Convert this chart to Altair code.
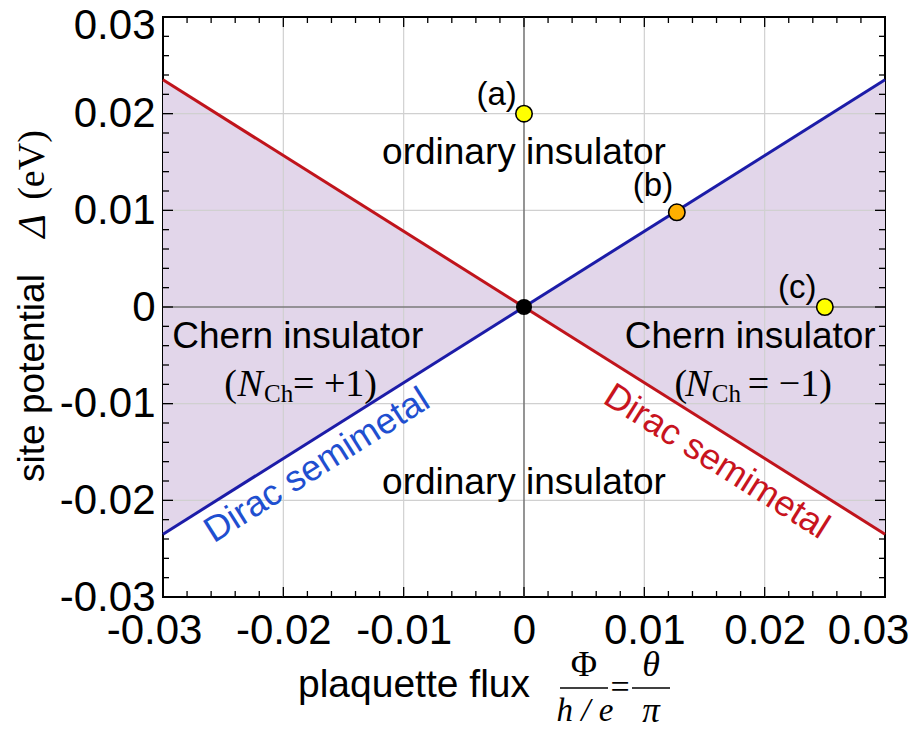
import altair as alt
import pandas as pd

W, H = 722, 580
SANS = "Liberation Sans"
SERIF = "Liberation Serif"

# phase boundary lines (Dirac semimetal)
x_line = [-0.03, 0.0, 0.03]
red_line = [0.0235, 0.0, -0.0235]
blue_line = [-0.0235, 0.0, 0.0235]

# marked points
point_x = [0.0, 0.0127, 0.025, 0.0]
point_y = [0.020, 0.0098, 0.0, 0.0]
point_fill = ["#ffff00", "#ffb000", "#ffff00", "#000000"]
point_size = [270, 270, 270, 210]

label_text = ["(a)", "(b)", "(c)"]
label_x = [-0.0006, 0.0124, 0.0243]
label_y = [0.0219, 0.0125, 0.0020]

# region annotations
region_text = ["ordinary insulator", "ordinary insulator", "Chern insulator", "Chern insulator"]
region_x = [0.0, 0.0, -0.0188, 0.0188]
region_y = [0.0159, -0.0182, -0.0031, -0.0031]

dirac_text = ["Dirac semimetal", "Dirac semimetal"]
dirac_x = [-0.0172, 0.0160]
dirac_y = [-0.0164, -0.0160]
dirac_color = ["#1f4fd0", "#c8141e"]
dirac_angle = [327.8, 32.2]

# Chern number labels (N_Ch = ±1), split into pieces
ch_y = -0.0081
paren_text = ["(", "= +1)", "(", "= \u22121)"]
paren_x = [-0.0249, -0.0192, 0.0125, 0.0186]
n_text = ["N", "N"]
n_x = [-0.0238, 0.0134]
sub_text = ["Ch", "Ch"]
sub_x = [-0.0216, 0.0156]

major = [-0.03, -0.02, -0.01, 0.0, 0.01, 0.02, 0.03]
grid_vals = [-0.02, -0.01, 0.01, 0.02]
minor = [round(k * 0.002, 3) for k in range(-15, 16) if k % 5 != 0]

xs = alt.Scale(domain=[-0.03, 0.03], nice=False, zero=False)
ys = alt.Scale(domain=[-0.03, 0.03], nice=False, zero=False)

lines_df = pd.DataFrame({"x": x_line, "red": red_line, "blue": blue_line})
pts_df = pd.DataFrame({"x": point_x, "y": point_y, "fill": point_fill, "size": point_size})
lab_df = pd.DataFrame({"t": label_text, "x": label_x, "y": label_y})
reg_df = pd.DataFrame({"t": region_text, "x": region_x, "y": region_y})
grid_df = pd.DataFrame({"v": grid_vals})
major_df = pd.DataFrame({"v": major})
minor_df = pd.DataFrame({"v": minor})

label_expr = ("datum.value == 0 ? '0' : (datum.value < 0 ? '-' + format(-datum.value, '.2f') "
              ": format(datum.value, '.2f'))")

x_axis = alt.Axis(values=major, labelExpr=label_expr, labelFont=SANS, labelFontSize=42,
                  labelColor="black", labelPadding=13, ticks=False, domain=False, grid=False,
                  labelFlush=False, labelOverlap=False, title=None,
                  labelOffset={"condition": [
                      {"test": "datum.value > 0.025", "value": -17},
                      {"test": "datum.value < -0.025", "value": -9}], "value": 0})
y_axis = alt.Axis(values=major, labelExpr=label_expr, labelFont=SANS, labelFontSize=42,
                  labelColor="black", labelPadding=8, ticks=False, domain=False, grid=False,
                  labelFlush=False, labelOverlap=False, title=None,
                  labelOffset={"condition": {"test": "datum.value > 0.025", "value": 8}, "value": 0})

area = alt.Chart(lines_df).mark_area(color="#e2d6ea", opacity=1).encode(
    x=alt.X("x:Q", scale=xs, axis=x_axis),
    y=alt.Y("red:Q", scale=ys, axis=y_axis),
    y2="blue:Q",
)

gx = alt.Chart(grid_df).mark_rule(color="#d0d0d0", strokeWidth=1.2).encode(x=alt.X("v:Q", scale=xs))
gy = alt.Chart(grid_df).mark_rule(color="#d0d0d0", strokeWidth=1.2).encode(y=alt.Y("v:Q", scale=ys))
zx = alt.Chart(pd.DataFrame({"v": [0.0]})).mark_rule(color="#7a7a7a", strokeWidth=1.6).encode(
    x=alt.X("v:Q", scale=xs))
zy = alt.Chart(pd.DataFrame({"v": [0.0]})).mark_rule(color="#7a7a7a", strokeWidth=1.6).encode(
    y=alt.Y("v:Q", scale=ys))

red = alt.Chart(lines_df).mark_line(color="#c0141c", strokeWidth=3).encode(
    x=alt.X("x:Q", scale=xs), y=alt.Y("red:Q", scale=ys))
blue = alt.Chart(lines_df).mark_line(color="#1c1ca8", strokeWidth=3).encode(
    x=alt.X("x:Q", scale=xs), y=alt.Y("blue:Q", scale=ys))


def ticks(df, length):
    out = []
    out.append(alt.Chart(df).mark_rule(color="black", strokeWidth=1.3).encode(
        x=alt.X("v:Q", scale=xs), y=alt.value(H), y2=alt.value(H - length)))
    out.append(alt.Chart(df).mark_rule(color="black", strokeWidth=1.3).encode(
        x=alt.X("v:Q", scale=xs), y=alt.value(0), y2=alt.value(length)))
    out.append(alt.Chart(df).mark_rule(color="black", strokeWidth=1.3).encode(
        y=alt.Y("v:Q", scale=ys), x=alt.value(0), x2=alt.value(length)))
    out.append(alt.Chart(df).mark_rule(color="black", strokeWidth=1.3).encode(
        y=alt.Y("v:Q", scale=ys), x=alt.value(W), x2=alt.value(W - length)))
    return out


tick_layers = ticks(minor_df, 6) + ticks(major_df, 10)

pts = alt.Chart(pts_df).mark_circle(stroke="black", strokeWidth=1.6, opacity=1).encode(
    x=alt.X("x:Q", scale=xs), y=alt.Y("y:Q", scale=ys),
    fill=alt.Fill("fill:N", scale=None), size=alt.Size("size:Q", scale=None))

labs = alt.Chart(lab_df).mark_text(font=SANS, fontSize=33, align="right", baseline="middle",
                                   color="black").encode(
    x=alt.X("x:Q", scale=xs), y=alt.Y("y:Q", scale=ys), text="t:N")

regs = alt.Chart(reg_df).mark_text(font=SANS, fontSize=37, align="center", baseline="middle",
                                   color="black").encode(
    x=alt.X("x:Q", scale=xs), y=alt.Y("y:Q", scale=ys), text="t:N")

dirac_layers = []
for t, xx, yy, c, a in zip(dirac_text, dirac_x, dirac_y, dirac_color, dirac_angle):
    dirac_layers.append(
        alt.Chart(pd.DataFrame({"t": [t], "x": [xx], "y": [yy]})).mark_text(
            font=SANS, fontSize=36, align="center", baseline="middle", color=c, angle=a).encode(
            x=alt.X("x:Q", scale=xs), y=alt.Y("y:Q", scale=ys), text="t:N"))

par = alt.Chart(pd.DataFrame({"t": paren_text, "x": paren_x, "y": [ch_y] * 4})).mark_text(
    font=SERIF, fontSize=38, align="left", baseline="middle", color="black").encode(
    x=alt.X("x:Q", scale=xs), y=alt.Y("y:Q", scale=ys), text="t:N")
nn = alt.Chart(pd.DataFrame({"t": n_text, "x": n_x, "y": [ch_y] * 2})).mark_text(
    font=SERIF, fontSize=38, fontStyle="italic", align="left", baseline="middle",
    color="black").encode(x=alt.X("x:Q", scale=xs), y=alt.Y("y:Q", scale=ys), text="t:N")
sub = alt.Chart(pd.DataFrame({"t": sub_text, "x": sub_x, "y": [ch_y] * 2})).mark_text(
    font=SERIF, fontSize=25, align="left", baseline="middle", dy=9, color="black").encode(
    x=alt.X("x:Q", scale=xs), y=alt.Y("y:Q", scale=ys), text="t:N")


def ptext(t, px, py, font=SANS, size=36, style="normal", angle=0, align="center"):
    return alt.Chart(pd.DataFrame({"t": [t]})).mark_text(
        font=font, fontSize=size, fontStyle=style, angle=angle, align=align,
        baseline="middle", color="black").encode(
        x=alt.value(px), y=alt.value(py), text="t:N")


def prule(x1, x2, py):
    return alt.Chart(pd.DataFrame({"t": [0]})).mark_rule(color="black", strokeWidth=1.5).encode(
        x=alt.value(x1), x2=alt.value(x2), y=alt.value(py))


title_layers = [
    ptext("site potential", -130, 361, size=37, angle=270),
    ptext("\u0394", -130, 209, font=SERIF, size=40, style="italic", angle=270),
    ptext("(eV)", -130, 148, font=SERIF, size=38, angle=270),
    ptext("plaquette flux", 251, 668, size=39),
    ptext("\u03a6", 421, 648, font=SERIF, size=36),
    prule(397, 445, 671),
    ptext("h / e", 422, 694, font=SERIF, size=33, style="italic"),
    ptext("=", 457, 671, font=SERIF, size=34),
    ptext("\u03b8", 488, 648, font=SERIF, size=36, style="italic"),
    prule(469, 507, 671),
    ptext("\u03c0", 488, 694, font=SERIF, size=35, style="italic"),
]

chart = alt.layer(
    area, gx, gy, zx, zy, red, blue, *tick_layers, pts, labs, regs, *dirac_layers,
    par, nn, sub, *title_layers
).properties(
    width=W, height=H,
    padding={"left": 155, "top": 9, "right": 24, "bottom": 132},
    autosize=alt.AutoSizeParams(type="none"),
).configure_view(stroke="black", strokeWidth=2)

chart.save("out.html", embed_options={"renderer": "svg", "actions": False})
